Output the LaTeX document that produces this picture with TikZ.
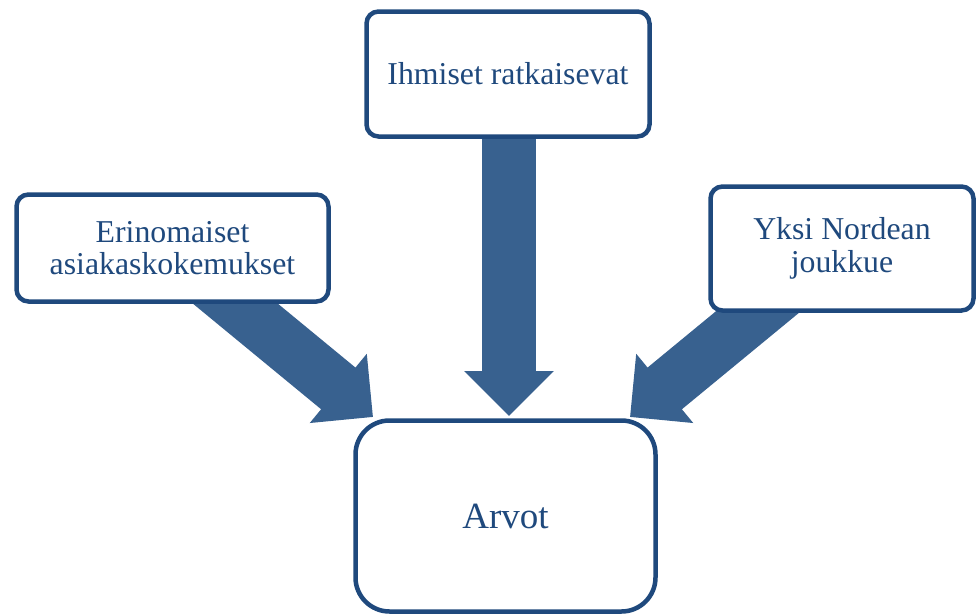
\documentclass[tikz,border=0pt]{standalone}
\usepackage{fontspec}
\setmainfont{Liberation Serif}
\usetikzlibrary{arrows.meta}
\definecolor{boxblue}{HTML}{1F497D}
\definecolor{arrowblue}{HTML}{38618F}
\tikzset{
  card/.style={draw=boxblue, line width=4.5pt, fill=white, rounded corners=12pt,
    text=boxblue, align=center, inner sep=0pt, font=\fontsize{31.8}{32.5}\selectfont},
  bigcard/.style={card, rounded corners=34pt, font=\fontsize{37}{40}\selectfont},
  blockarrow/.style={draw=arrowblue, line width=54pt,
    -{Triangle[length=45pt, width=87pt]}},
}
\begin{document}
\begin{tikzpicture}[x=1pt, y=-1pt]
  \useasboundingbox (0,0) rectangle (978,616);
  % arrow start points (hidden under the boxes) and tips
  \coordinate (ls) at (203,277);
  \coordinate (lt) at (373,417);
  \coordinate (ts) at (509,120);
  \coordinate (tt) at (509,416);
  \coordinate (rs) at (800,277);
  \coordinate (rt) at (630,417);
  % block arrows
  \draw[blockarrow] (ls) -- (lt);
  \draw[blockarrow] (ts) -- (tt);
  \draw[blockarrow] (rs) -- (rt);
  % boxes
  \node[card, minimum width=312pt, minimum height=107pt] (left) at (172.5,248)
    {Erinomaiset\\asiakaskokemukset};
  \node[card, minimum width=283pt, minimum height=125pt] (top) at (508,74)
    {Ihmiset ratkaisevat};
  \node[card, minimum width=263pt, minimum height=124pt] (right) at (842,248.5)
    {Yksi Nordean\\joukkue};
  \node[bigcard, minimum width=300pt, minimum height=191pt] (goal) at (505.5,516)
    {Arvot};
\end{tikzpicture}
\end{document}
